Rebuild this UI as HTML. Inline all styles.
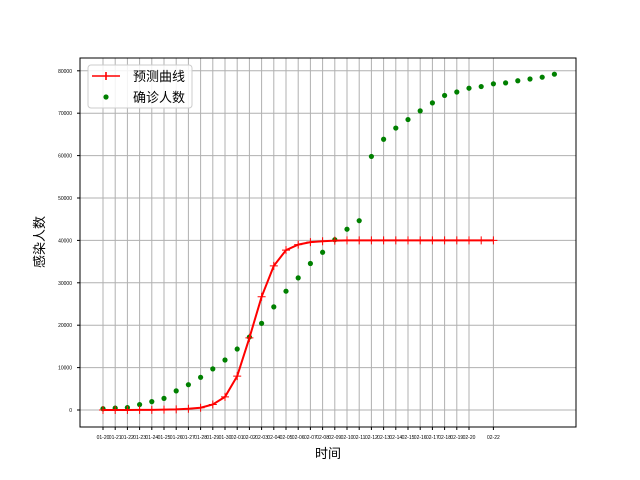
<!DOCTYPE html>
<html><head><meta charset="utf-8"><style>body{margin:0;background:#fff}svg{display:block;font-family:"Liberation Sans","Noto Sans CJK SC",sans-serif}</style></head>
<body>
<svg id="c" width="640" height="480"></svg>
<script>
const dateLabels=["01-20","01-21","01-22","01-23","01-24","01-25","01-26","01-27","01-28","01-29","01-30","02-01","02-02","02-03","02-04","02-05","02-06","02-07","02-08","02-09","02-10","02-11","02-12","02-13","02-14","02-15","02-16","02-17","02-18","02-19","02-20","","02-22"];
const predicted=[0,0,10,20,40,80,150,300,540,1300,3100,8000,17000,26700,34000,37700,39000,39600,39800,39950,40000,40000,40000,40000,40000,40000,40000,40000,40000,40000,40000,40000,40000];
const confirmed=[291,440,571,1287,1975,2744,4515,5974,7711,9692,11791,14380,17205,20438,24324,28018,31161,34546,37198,40171,42638,44653,59804,63851,66492,68500,70548,72436,74185,75002,75891,76288,76936,77150,77658,78064,78497,79200];
const yTicks=[0,10000,20000,30000,40000,50000,60000,70000,80000];
const NS="http://www.w3.org/2000/svg",svg=document.getElementById('c');
const L=80,R=576,T=58,B=427;
const x=d=>103+d*12.2, y=v=>410-v*0.00424;
function mk(t,a,p){const e=document.createElementNS(NS,t);for(const k in a)e.setAttribute(k,a[k]);(p||svg).appendChild(e);return e;}
const grid=mk('g',{});


dateLabels.forEach((s,i)=>{if(!s)return;
 mk('line',{x1:x(i),x2:x(i),y1:T,y2:B,stroke:'#b0b0b0','stroke-width':1},grid);
 mk('line',{x1:x(i),x2:x(i),y1:B,y2:B+3,stroke:'#000'},grid);
 const t=mk('text',{x:x(i),y:B+12,'font-size':5,'text-anchor':'middle',fill:'#000'});t.textContent=s;
 
 });
yTicks.forEach(v=>{
 mk('line',{x1:L,x2:R,y1:y(v),y2:y(v),stroke:'#b0b0b0','stroke-width':1},grid);
 mk('line',{x1:L-3,x2:L,y1:y(v),y2:y(v),stroke:'#000'},grid);
 const t=mk('text',{x:L-8,y:y(v)+2,'font-size':5,'text-anchor':'end',fill:'#000'});t.textContent=v;
 
 });
const fr=mk('rect',{x:L,y:T,width:R-L,height:B-T,fill:'none',stroke:'#000','stroke-width':1});


confirmed.forEach((v,i)=>{const c=mk('circle',{cx:x(i),cy:y(v),r:2.6,fill:'#008000'});
 
 });
const pl=mk('polyline',{points:predicted.map((v,i)=>x(i)+','+y(v)).join(' '),fill:'none',stroke:'#f00','stroke-width':2});


predicted.forEach((v,i)=>{const g=mk('path',{d:`M${x(i)-4},${y(v)}h8M${x(i)},${y(v)-4}v8`,stroke:'#f00','stroke-width':1});
 
 });
const lg=mk('g',{});


mk('rect',{x:88,y:65,width:104,height:43,rx:3,fill:'#fff','fill-opacity':0.85,stroke:'#ccc'},lg);
mk('path',{d:'M92,76h28M106,72v8',stroke:'#f00','stroke-width':1.6},lg);
mk('circle',{cx:106,cy:97,r:2.6,fill:'#008000'},lg);
let t=mk('text',{x:133,y:81,'font-size':13},lg);t.textContent='预测曲线';


t=mk('text',{x:133,y:102,'font-size':13},lg);t.textContent='确诊人数';


t=mk('text',{x:328,y:458,'font-size':13,'text-anchor':'middle'});t.textContent='时间';


t=mk('text',{x:0,y:0,'font-size':13,'text-anchor':'middle',transform:'translate(44,242) rotate(-90)'});t.textContent='感染人数';


</script>
</body></html>
